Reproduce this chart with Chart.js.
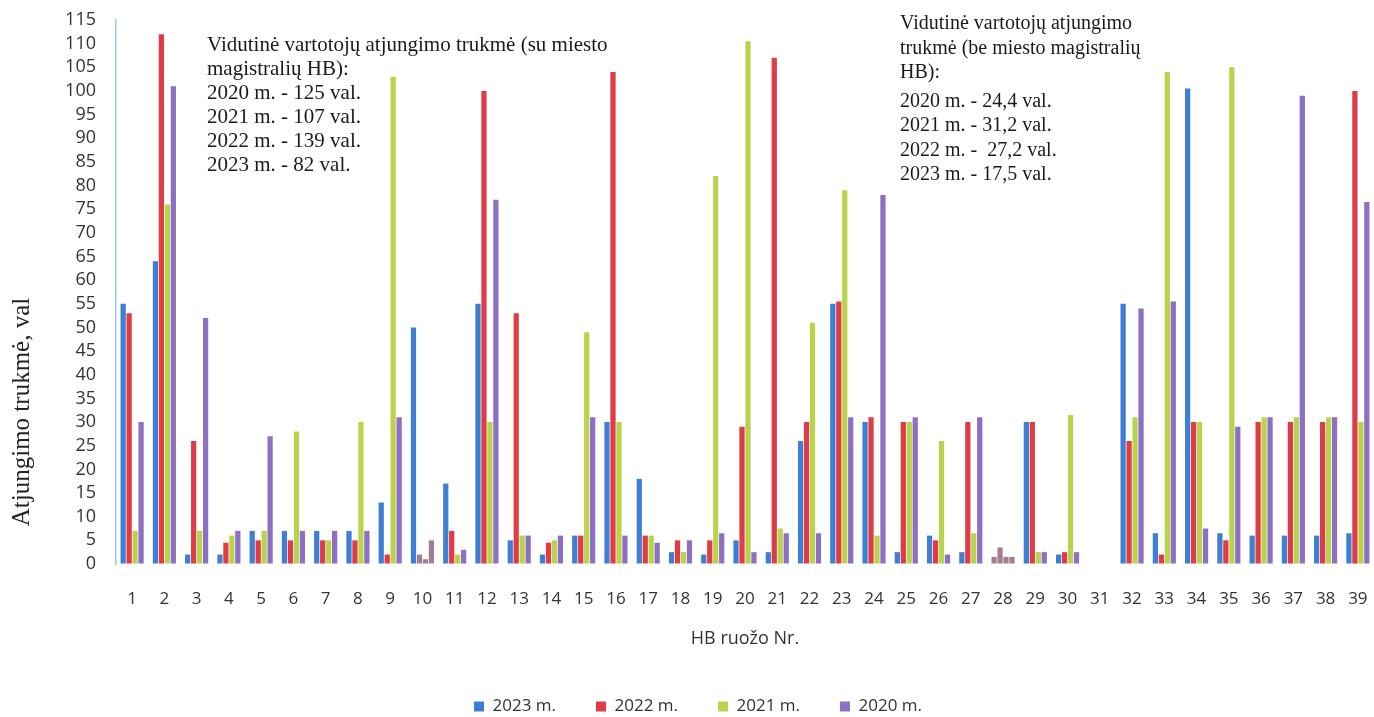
<!DOCTYPE html>
<html lang="lt">
<head>
<meta charset="utf-8">
<script src="https://cdn.jsdelivr.net/npm/chart.js@4.4.1/dist/chart.umd.min.js"></script>
<style>
  html,body{margin:0;padding:0;background:#fff;overflow:hidden}
  #wrap{width:1374px;height:717px;position:relative}
</style>
</head>
<body>
<div id="wrap"><canvas id="ch"></canvas></div>
<script>
/* HB ruožų atjungimo trukmė 2020–2023 */
const HB = ["1","2","3","4","5","6","7","8","9","10","11","12","13","14","15","16","17","18","19","20",
            "21","22","23","24","25","26","27","28","29","30","31","32","33","34","35","36","37","38","39"];
const v2023 = [55,64,2,2,7,7,7,7,13,50,17,55,5,2,6,30,18,2.5,2,5,2.5,26,55,30,2.5,6,2.5,1.5,30,2,0,55,6.5,100.5,6.5,6,6,6,6.5];
const v2022 = [53,112,26,4.5,5,5,5,5,2,2,7,100,53,4.5,6,104,6,5,5,29,107,30,55.5,31,30,5,30,3.5,30,2.5,0,26,2,30,5,30,30,30,100];
const v2021 = [7,76,7,6,7,28,5,30,103,1,2,30,6,5,49,30,6,2.5,82,110.5,7.5,51,79,6,30,26,6.5,1.5,2.5,31.5,0,31,104,30,105,31,31,31,30];
const v2020 = [30,101,52,7,27,7,7,7,31,5,3,77,6,6,31,6,4.5,5,6.5,2.5,6.5,6.5,31,78,31,2,31,1.5,2.5,2.5,0,54,55.5,7.5,29,31,99,31,76.5];
const SERIES = ["2023 m.","2022 m.","2021 m.","2020 m."];
const Y_TICKS = [0,5,10,15,20,25,30,35,40,45,50,55,60,65,70,75,80,85,90,95,100,105,110,115];
const Y_TITLE = "Atjungimo trukmė, val";

const NOTE_L = ["Vidutinė vartotojų atjungimo trukmė (su miesto","magistralių HB):","2020 m. - 125 val.","2021 m. - 107 val.","2022 m. - 139 val.","2023 m. - 82 val."];
const NOTE_R = ["Vidutinė vartotojų atjungimo","trukmė (be miesto magistralių","HB):","2020 m. - 24,4 val.","2021 m. - 31,2 val.","2022 m. -  27,2 val.","2023 m. - 17,5 val."];

const COLORS = ["#3d7fd3","#e03c46","#b9d34c","#8d6fc3"];
const MAUVE = "#a27f90";          // skenuotame originale 10 ir 28 ruožų stulpeliai blankūs
const SANS = "'Open Sans', 'Noto Sans', sans-serif";
const SERIF = "'Liberation Serif', 'DejaVu Serif', serif";
const PAD_L = 22;
// nematomi ašių brūkšniai – jais atitraukiami užrašai nuo ašies
const hiddenGrid = len => ({ display: true, drawOnChartArea: false, drawTicks: true, tickLength: len,
                             color: "rgba(0,0,0,0)", tickColor: "rgba(0,0,0,0)" });
const barColor = i => ctx => {
  const hb = HB[ctx.dataIndex];
  if (hb === "28" || (hb === "10" && i > 0)) return MAUVE;
  return COLORS[i];
};

// paaiškinimai ir Y ašies pavadinimas (originale jis ne per vidurį)
const notes = {
  id: "notes",
  afterDraw(c) {
    const ctx = c.ctx;
    ctx.save();
    ctx.fillStyle = "#1a1a1a";
    ctx.textBaseline = "alphabetic";
    ctx.font = "21px " + SERIF;
    NOTE_L.forEach((t,i) => ctx.fillText(t, 207, 51 + i*24));
    ctx.font = "20px " + SERIF;
    NOTE_R.forEach((t,i) => ctx.fillText(t, 900, 29 + i*24.5 + (i>2?4:0)));

    ctx.translate(22, 412);
    ctx.rotate(-Math.PI/2);
    ctx.font = "25px " + SERIF;
    ctx.textAlign = "center";
    ctx.textBaseline = "middle";
    ctx.fillStyle = "#222";
    ctx.fillText(Y_TITLE, 0, 0);
    ctx.restore();
  }
};

new Chart(document.getElementById("ch"), {
  type: "bar",
  data: {
    labels: HB,
    datasets: [v2023, v2022, v2021, v2020].map((d,i) => ({
      label: SERIES[i], data: d, backgroundColor: barColor(i),
      categoryPercentage: 0.74, barPercentage: 0.88
    }))
  },
  options: {
    responsive: true, maintainAspectRatio: false, animation: false,
    layout: { padding: { top: 20, right: 0, left: PAD_L, bottom: -8 } },
    plugins: {
      legend: { position: "bottom",
        labels: { boxWidth: 10, boxHeight: 10, padding: 40, color: "#333", font: { size: 17, family: SANS },
                  generateLabels: ch => SERIES.map((s,i) => ({ text: s, fillStyle: COLORS[i], strokeStyle: COLORS[i],
                                                              lineWidth: 0, hidden: false, datasetIndex: i, fontColor: "#333" })) } },
      tooltip: { enabled: false }
    },
    scales: {
      x: {
        grid: hiddenGrid(25),
        border: { display: false },
        ticks: { color: "#333", font: { size: 17, family: SANS }, padding: 0, maxRotation: 0, autoSkip: false },
        title: { display: true, text: "HB ruožo Nr.", color: "#333", font: { size: 18, family: SANS }, padding: { top: 19, bottom: 8 } }
      },
      y: {
        min: 0, max: 115,
        afterBuildTicks: ax => { ax.ticks = Y_TICKS.map(v => ({ value: v })); },
        afterFit: ax => { ax.width = 116 - PAD_L; },
        grid: hiddenGrid(20),
        border: { display: true, color: "#9cc8ef", width: 1.5 },
        ticks: { color: "#333", font: { size: 18, family: SANS }, padding: 0, autoSkip: false },
        title: { display: false }
      }
    }
  },
  plugins: [notes]
});
</script>
</body>
</html>
